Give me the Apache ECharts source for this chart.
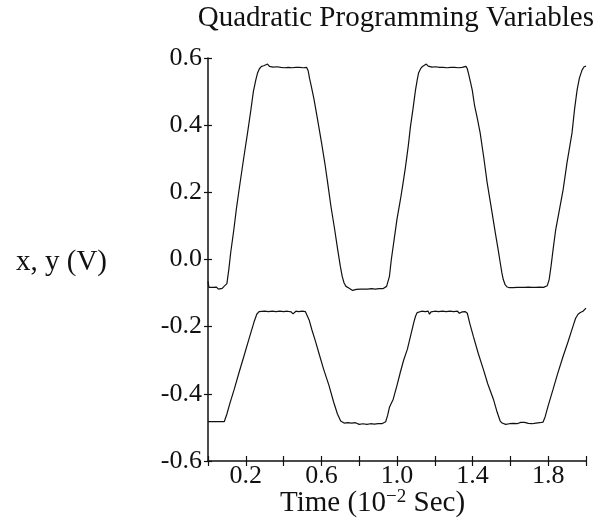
<!DOCTYPE html>
<html><head><meta charset="utf-8">
<script src="https://cdn.jsdelivr.net/npm/echarts@6/dist/echarts.min.js"></script>
<style>html,body{margin:0;padding:0;background:#fff}#c{width:601px;height:522px}</style>
</head><body><div id="c"></div>
<script>
// Upper trace (x)
const timeX = [0,0.005,0.015,0.025,0.035,0.045,0.055,0.065,0.075,0.085,0.095,0.10,
 0.11,0.12,0.137,0.15,0.165,0.19,0.21,0.227,0.24,0.253,0.262,0.272,0.283,
 0.295,0.305,0.315,0.325,0.335,0.345,0.355,0.365,0.375,0.385,0.395,0.405,0.415,0.425,0.435,0.445,0.455,0.465,0.475,0.485,0.495,0.505,0.515,0.522,
 0.53,0.537,0.545,0.56,0.58,0.60,0.62,0.633,0.65,0.67,0.686,0.70,0.71,0.72,0.73,
 0.745,0.755,0.765,0.775,0.785,0.795,0.805,0.815,0.825,0.835,0.845,0.855,0.865,0.875,0.885,0.895,0.905,0.915,0.925,0.935,0.945,0.952,
 0.96,0.97,0.985,1.0,1.018,1.03,1.045,1.06,1.071,1.085,1.098,1.107,1.114,1.125,1.135,
 1.145,1.155,1.165,1.175,1.185,1.195,1.205,1.215,1.225,1.235,1.245,1.255,1.265,1.275,1.285,1.295,1.305,1.315,1.325,1.335,1.345,1.355,1.365,
 1.372,1.38,1.39,1.398,1.41,1.425,1.44,1.46,1.477,1.50,1.52,1.535,1.546,1.555,1.562,1.572,1.583,
 1.595,1.605,1.615,1.625,1.635,1.645,1.655,1.665,1.675,1.685,1.695,1.705,1.715,1.725,1.735,1.745,1.755,1.765,1.775,1.785,1.795,
 1.805,1.815,1.826,1.84,1.86,1.879,1.90,1.915,1.926,1.94,1.953,1.965,1.979,1.99,2.0];
const valX = [-0.065,-0.083,-0.088,-0.083,-0.087,-0.082,-0.088,-0.083,-0.086,-0.080,-0.078,-0.072,
 -0.03,0.02,0.09,0.15,0.21,0.306,0.38,0.446,0.50,0.535,0.555,0.568,0.575,
 0.577,0.576,0.582,0.575,0.578,0.573,0.571,0.574,0.576,0.572,0.575,0.571,0.576,0.572,0.576,0.571,0.575,0.572,0.576,0.572,0.575,0.571,0.574,0.572,
 0.562,0.54,0.52,0.48,0.416,0.35,0.28,0.229,0.16,0.09,0.03,-0.02,-0.05,-0.07,-0.08,
 -0.085,-0.088,-0.092,-0.087,-0.089,-0.084,-0.088,-0.083,-0.088,-0.084,-0.088,-0.083,-0.087,-0.083,-0.088,-0.083,-0.087,-0.082,-0.087,-0.083,-0.080,-0.075,
 -0.05,0.00,0.06,0.12,0.178,0.22,0.276,0.34,0.395,0.45,0.505,0.535,0.555,0.568,0.575,
 0.578,0.582,0.576,0.578,0.573,0.571,0.574,0.576,0.572,0.576,0.572,0.575,0.571,0.576,0.572,0.576,0.572,0.575,0.571,0.576,0.572,0.576,0.575,
 0.568,0.55,0.525,0.505,0.46,0.42,0.377,0.30,0.229,0.15,0.08,0.03,-0.009,-0.04,-0.059,-0.075,-0.082,
 -0.084,-0.088,-0.084,-0.088,-0.083,-0.087,-0.083,-0.088,-0.083,-0.087,-0.082,-0.087,-0.083,-0.088,-0.083,-0.087,-0.082,-0.087,-0.083,-0.086,-0.078,
 -0.06,-0.02,0.03,0.09,0.15,0.208,0.29,0.34,0.377,0.45,0.505,0.54,0.564,0.574,0.576];
// Lower trace (y)
const timeY = [0,0.086,
 0.10,0.115,0.139,0.165,0.19,0.215,0.243,0.258,0.27,
 0.28,0.30,0.32,0.34,0.36,0.38,0.40,0.42,0.44,0.45,0.458,0.465,0.48,0.50,0.515,
 0.522,0.535,0.55,0.57,0.59,0.612,0.64,0.665,0.685,0.702,0.712,
 0.72,0.73,0.74,0.75,0.76,0.77,0.78,0.79,0.80,0.81,0.82,0.83,0.84,0.85,0.86,0.87,0.88,0.89,0.90,0.91,0.92,0.93,0.94,
 0.95,0.96,0.98,1.0,1.018,1.035,1.055,1.075,1.09,1.098,1.107,1.114,
 1.13,1.15,1.165,1.172,1.18,1.20,1.22,1.24,1.26,1.28,1.30,1.32,1.33,1.338,1.345,1.36,
 1.372,1.385,1.404,1.43,1.457,1.48,1.51,1.53,1.546,1.556,
 1.565,1.575,1.585,1.595,1.605,1.615,1.625,1.635,1.645,1.655,1.665,1.675,1.685,1.695,1.705,1.715,1.725,1.735,1.745,1.755,1.765,1.773,
 1.784,1.80,1.826,1.85,1.879,1.905,1.931,1.945,1.958,1.97,1.984,1.99,2.0];
const valY = [-0.483,-0.483,
 -0.46,-0.43,-0.386,-0.335,-0.288,-0.24,-0.187,-0.163,-0.155,
 -0.155,-0.154,-0.155,-0.154,-0.155,-0.154,-0.155,-0.154,-0.156,-0.162,-0.158,-0.154,-0.155,-0.154,-0.155,
 -0.156,-0.18,-0.21,-0.246,-0.285,-0.327,-0.375,-0.425,-0.46,-0.481,-0.486,
 -0.487,-0.490,-0.486,-0.489,-0.487,-0.491,-0.486,-0.488,-0.491,-0.486,-0.489,-0.487,-0.491,-0.486,-0.489,-0.487,-0.490,-0.486,-0.489,-0.487,-0.489,-0.486,-0.483,
 -0.465,-0.44,-0.416,-0.375,-0.335,-0.30,-0.267,-0.22,-0.185,-0.169,-0.158,-0.155,
 -0.154,-0.155,-0.154,-0.163,-0.156,-0.154,-0.155,-0.154,-0.155,-0.154,-0.155,-0.154,-0.16,-0.164,-0.156,-0.155,
 -0.16,-0.19,-0.229,-0.28,-0.327,-0.37,-0.416,-0.455,-0.481,-0.487,
 -0.489,-0.491,-0.486,-0.489,-0.487,-0.488,-0.486,-0.489,-0.485,-0.485,-0.489,-0.485,-0.487,-0.488,-0.486,-0.489,-0.485,-0.487,-0.491,-0.486,-0.488,-0.484,
 -0.468,-0.435,-0.386,-0.34,-0.288,-0.245,-0.199,-0.175,-0.163,-0.158,-0.154,-0.152,-0.145];
const titleText = 'Quadratic Programming Variables';
const yName = 'x, y (V)';

const FONT = 'Liberation Serif';
const INK = '#111';
const pairs = (t, v) => t.map((x, i) => [x, v[i]]);

const chart = echarts.init(document.getElementById('c'), null, {renderer: 'canvas'});
const baseX = {type: 'value', min: 0, max: 2.0, interval: 0.2, splitLine: {show: false}, position: 'bottom', offset: 0};
const baseY = {type: 'value', min: -0.6, max: 0.6, interval: 0.2, splitLine: {show: false}, position: 'left', offset: 0};
chart.setOption({
  animation: false,
  backgroundColor: '#fff',
  grid: {left: 208, right: 15, top: 58, bottom: 61, containLabel: false},
  title: [
    {text: titleText, right: 2, top: -1, textStyle: {fontFamily: FONT, fontSize: 29, fontWeight: 'normal', color: INK}},
    {text: yName, left: 11, top: 243, textStyle: {fontFamily: FONT, fontSize: 29, fontWeight: 'normal', color: INK}},
    {text: 'Time (10{sup|\u22122} Sec)', left: 275, top: 483,
     textStyle: {fontFamily: FONT, fontSize: 29, fontWeight: 'normal', color: INK,
       rich: {sup: {fontFamily: FONT, fontSize: 19, verticalAlign: 'top', color: INK, padding: [0, 0, 12, 0]}}}}
  ],
  xAxis: [
    Object.assign({}, baseX, {
      axisLine: {show: true, onZero: false, lineStyle: {color: INK, width: 1.5}},
      axisTick: {show: true, inside: false, length: 5, lineStyle: {color: INK, width: 1.2}},
      axisLabel: {margin: 2, fontFamily: FONT, fontSize: 26, color: INK, showMinLabel: true, showMaxLabel: true,
        formatter: v => (Math.round(v * 10) % 4 === 2) ? v.toFixed(1) : ''}
    }),
    Object.assign({}, baseX, {
      axisLine: {show: false, onZero: false},
      axisTick: {show: true, inside: true, length: 5, lineStyle: {color: INK, width: 1.2}},
      axisLabel: {show: false}
    })
  ],
  yAxis: [
    Object.assign({}, baseY, {
      axisLine: {show: true, onZero: false, lineStyle: {color: INK, width: 1.5}},
      axisTick: {show: true, inside: false, length: 4, lineStyle: {color: INK, width: 1.2}},
      axisLabel: {margin: 6, fontFamily: FONT, fontSize: 26, color: INK,
        formatter: v => Math.abs(v) < 1e-9 ? '0.0' : v.toFixed(1)}
    }),
    Object.assign({}, baseY, {
      axisLine: {show: false, onZero: false},
      axisTick: {show: true, inside: true, length: 4, lineStyle: {color: INK, width: 1.2}},
      axisLabel: {show: false}
    })
  ],
  series: [
    {type: 'line', xAxisIndex: 0, yAxisIndex: 0, data: pairs(timeX, valX), showSymbol: false, symbol: 'none',
     lineStyle: {color: INK, width: 1.2}},
    {type: 'line', xAxisIndex: 0, yAxisIndex: 0, data: pairs(timeY, valY), showSymbol: false, symbol: 'none',
     lineStyle: {color: INK, width: 1.2}}
  ]
});
</script>
</body></html>
